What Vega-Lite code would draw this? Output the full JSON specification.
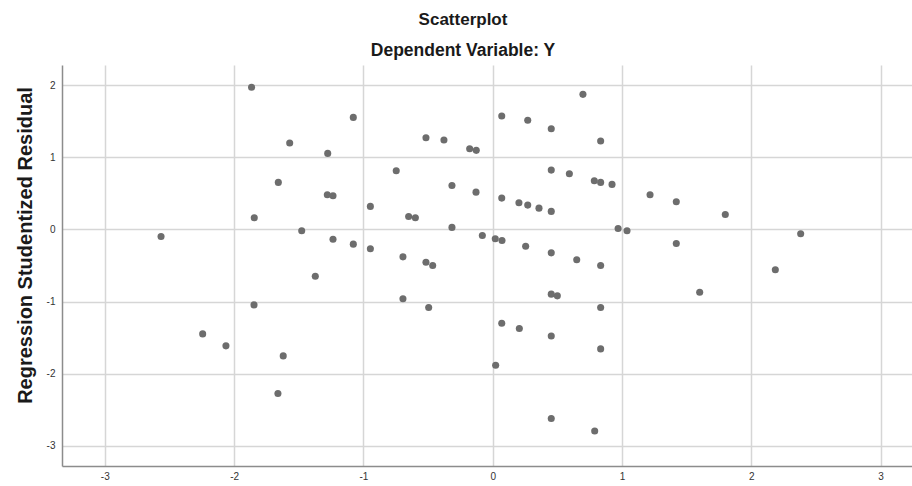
{
  "$schema": "https://vega.github.io/schema/vega-lite/v6.json",
  "width": 850,
  "height": 401,
  "autosize": "none",
  "padding": {"left": 62, "top": 65, "right": 0, "bottom": 20},
  "background": "white",
  "title": {
    "text": "Scatterplot",
    "subtitle": "Dependent Variable: Y",
    "anchor": "middle",
    "dx": -24,
    "font": "Liberation Sans",
    "fontSize": 17,
    "fontWeight": "bold",
    "color": "#1a1a1a",
    "subtitleFont": "Liberation Sans",
    "subtitleFontSize": 17.5,
    "subtitleFontWeight": "bold",
    "subtitleColor": "#1a1a1a",
    "subtitlePadding": 13,
    "offset": 5
  },
  "config": {
    "view": {"stroke": null},
    "axis": {
      "gridColor": "#d6d6d6",
      "gridWidth": 1.5,
      "domainColor": "#8c8c8c",
      "domainWidth": 1.5,
      "ticks": false,
      "labelFont": "Liberation Sans",
      "labelFontSize": 10,
      "labelColor": "#333333",
      "titleFont": "Liberation Sans",
      "titleColor": "#1a1a1a"
    }
  },
  "data": {
    "values": [
      {"x": -2.565, "y": -0.097}, {"x": -2.243, "y": -1.448}, {"x": -2.063, "y": -1.614},
      {"x": -1.865, "y": 1.970}, {"x": -1.844, "y": 0.161}, {"x": -1.846, "y": -1.046},
      {"x": -1.658, "y": 0.652}, {"x": -1.661, "y": -2.275}, {"x": -1.620, "y": -1.753},
      {"x": -1.570, "y": 1.197}, {"x": -1.477, "y": -0.019}, {"x": -1.372, "y": -0.648},
      {"x": -1.279, "y": 0.480}, {"x": -1.276, "y": 1.054}, {"x": -1.235, "y": 0.466},
      {"x": -1.235, "y": -0.135}, {"x": -1.078, "y": 1.553}, {"x": -1.078, "y": -0.204},
      {"x": -0.946, "y": 0.319}, {"x": -0.946, "y": -0.269}, {"x": -0.746, "y": 0.813},
      {"x": -0.694, "y": -0.380}, {"x": -0.694, "y": -0.962}, {"x": -0.650, "y": 0.180},
      {"x": -0.598, "y": 0.161}, {"x": -0.516, "y": 1.270}, {"x": -0.516, "y": -0.454},
      {"x": -0.464, "y": -0.499}, {"x": -0.495, "y": -1.082}, {"x": -0.377, "y": 1.239},
      {"x": -0.315, "y": 0.610}, {"x": -0.315, "y": 0.028}, {"x": -0.178, "y": 1.118},
      {"x": -0.127, "y": 1.096}, {"x": -0.129, "y": 0.517}, {"x": -0.080, "y": -0.083},
      {"x": 0.020, "y": -0.130}, {"x": 0.072, "y": -0.153}, {"x": 0.023, "y": -1.882},
      {"x": 0.070, "y": 1.571}, {"x": 0.070, "y": 0.434}, {"x": 0.070, "y": -1.300},
      {"x": 0.203, "y": 0.369}, {"x": 0.206, "y": -1.373}, {"x": 0.255, "y": -0.232},
      {"x": 0.271, "y": 1.512}, {"x": 0.271, "y": 0.337}, {"x": 0.358, "y": 0.295},
      {"x": 0.453, "y": 1.395}, {"x": 0.453, "y": 0.822}, {"x": 0.453, "y": 0.250},
      {"x": 0.453, "y": -0.325}, {"x": 0.453, "y": -0.897}, {"x": 0.500, "y": -0.921},
      {"x": 0.453, "y": -1.476}, {"x": 0.453, "y": -2.621}, {"x": 0.593, "y": 0.771},
      {"x": 0.650, "y": -0.421}, {"x": 0.698, "y": 1.872}, {"x": 0.786, "y": 0.674},
      {"x": 0.789, "y": -2.793}, {"x": 0.835, "y": 1.225}, {"x": 0.835, "y": 0.652},
      {"x": 0.835, "y": -0.499}, {"x": 0.835, "y": -1.082}, {"x": 0.835, "y": -1.656},
      {"x": 0.923, "y": 0.624}, {"x": 0.970, "y": 0.014}, {"x": 1.039, "y": -0.019},
      {"x": 1.217, "y": 0.480}, {"x": 1.420, "y": 0.383}, {"x": 1.420, "y": -0.194},
      {"x": 1.601, "y": -0.870}, {"x": 1.799, "y": 0.208}, {"x": 2.186, "y": -0.560},
      {"x": 2.382, "y": -0.061}
    ]
  },
  "mark": {"type": "circle", "size": 50, "color": "#6d6d6d", "opacity": 1},
  "encoding": {
    "x": {
      "field": "x",
      "type": "quantitative",
      "scale": {"domain": [-3.331, 3.243], "nice": false, "zero": false},
      "axis": {"title": null, "values": [-3, -2, -1, 0, 1, 2, 3], "labelPadding": 5, "labelExpr": "'' + datum.value"}
    },
    "y": {
      "field": "y",
      "type": "quantitative",
      "scale": {"domain": [-3.279, 2.279], "nice": false, "zero": false},
      "axis": {
        "title": "Regression Studentized Residual",
        "titleFontSize": 20,
        "titleFontWeight": "bold",
        "titlePadding": 11,
        "titleY": 180,
        "values": [-3, -2, -1, 0, 1, 2],
        "labelPadding": 7,
        "labelExpr": "'' + datum.value"
      }
    }
  }
}
